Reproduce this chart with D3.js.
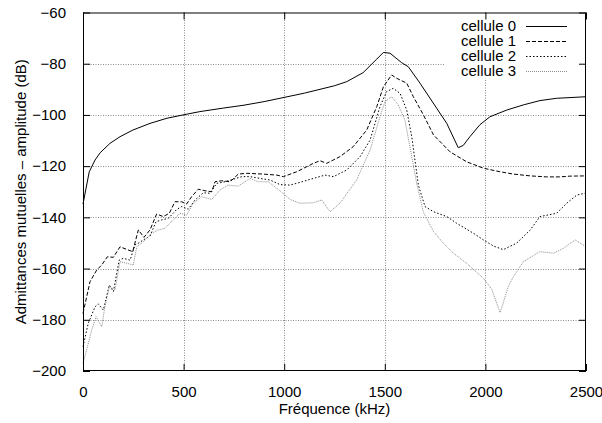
<!DOCTYPE html>
<html>
<head>
<meta charset="utf-8">
<script src="https://cdn.jsdelivr.net/npm/d3@7"></script>
<style>
  html, body { margin: 0; padding: 0; background: #fff; }
  svg { display: block; font-family: "Liberation Sans", Arial, Helvetica, sans-serif; }
</style>
</head>
<body>
<svg id="chart" width="602" height="423"></svg>
<script>
// Mutual admittance amplitude (dB) versus frequency (kHz), one series per cell.
const xTicks = [0, 500, 1000, 1500, 2000, 2500];
const yTicks = [-200, -180, -160, -140, -120, -100, -80, -60];
const seriesNames = ["cellule 0", "cellule 1", "cellule 2", "cellule 3"];

const cellule0 = [
  [0,-134.8],[31,-122.2],[60,-117.6],[85,-114.8],[134,-111.1],[184,-108.5],[248,-105.9],
  [333,-103.3],[417,-101.3],[497,-100],[581,-98.7],[700,-97.3],[800,-96.2],[900,-94.8],
  [979,-93.5],[1100,-91.5],[1178,-90],[1250,-88.6],[1311,-87],[1392,-83.5],[1460,-78.2],
  [1493,-75.6],[1526,-75.9],[1551,-77.5],[1584,-79.6],[1617,-81.2],[1675,-87.6],[1758,-97.4],
  [1808,-103.3],[1865,-112.8],[1890,-111.9],[1923,-108.5],[1973,-103.8],[2023,-100.7],
  [2106,-98.1],[2188,-96.1],[2271,-94.4],[2354,-93.5],[2500,-92.9]
];
const cellule1 = [
  [0,-177.5],[35,-165.1],[68,-160.6],[93,-158.6],[121,-155.4],[151,-155.6],[184,-151.5],
  [217,-152.5],[247,-153.4],[275,-144.9],[303,-147.8],[333,-144.9],[366,-138.7],[399,-139.7],
  [429,-138.4],[457,-133.9],[490,-133.9],[515,-134.8],[540,-131.9],[573,-129],[606,-129.6],
  [640,-130],[656,-126.1],[689,-125.7],[731,-126.1],[772,-123.1],[814,-122.8],[896,-123.1],
  [963,-123.5],[996,-124.1],[1062,-122.2],[1145,-118.9],[1178,-117.9],[1211,-118.9],
  [1277,-116.3],[1343,-112.4],[1410,-105.9],[1460,-96.8],[1493,-89],[1534,-84.4],[1559,-85.7],
  [1609,-87.6],[1642,-92.9],[1692,-100],[1742,-107.8],[1824,-114.4],[1907,-118.3],
  [1990,-120.8],[2073,-122.2],[2139,-123.1],[2222,-123.8],[2305,-124.2],[2371,-124.2],
  [2420,-123.9],[2500,-123.8]
];
const cellule2 = [
  [0,-190.5],[26,-181.4],[60,-174.9],[76,-173.8],[101,-176.2],[131,-166.4],[151,-169],
  [180,-156.7],[200,-156],[234,-156.7],[258,-150.8],[275,-150.1],[300,-148.8],[333,-147.3],
  [363,-141.7],[391,-141],[424,-140.4],[466,-136.9],[490,-135.8],[523,-136.8],[557,-133.2],
  [598,-130.4],[631,-130.6],[665,-126.7],[706,-126.1],[747,-125.1],[789,-124.1],[830,-124.1],
  [880,-124.8],[929,-125.4],[979,-127.2],[1029,-127.4],[1062,-126.7],[1145,-124.8],
  [1203,-123.5],[1245,-124.1],[1311,-121.5],[1377,-116.3],[1427,-109.8],[1476,-96.8],
  [1509,-90.9],[1542,-89.6],[1576,-91.6],[1609,-98.1],[1634,-108.5],[1667,-127.5],
  [1700,-135.8],[1742,-137.8],[1808,-139.7],[1857,-142.3],[1940,-146.2],[1990,-148.8],
  [2040,-151.2],[2089,-152.6],[2155,-150.1],[2222,-145],[2271,-139.7],[2354,-138.4],
  [2404,-134.5],[2454,-131.3],[2500,-130.5]
];
const cellule3 = [
  [0,-197],[18,-191.8],[43,-184],[65,-178.8],[93,-182.7],[109,-174.9],[131,-167.1],
  [159,-168.4],[184,-157.3],[217,-157.9],[250,-158.6],[267,-151.5],[300,-149.5],[341,-146.2],
  [374,-144.9],[407,-144.3],[449,-141],[482,-138.4],[515,-139.1],[548,-134.5],[590,-131.9],
  [640,-133],[681,-129.3],[722,-127.4],[772,-127.8],[830,-124.8],[871,-126.1],[921,-126.1],
  [979,-129.6],[1029,-133],[1079,-134.5],[1145,-134.3],[1186,-133.2],[1228,-137.8],
  [1277,-134.5],[1360,-125.4],[1427,-113.7],[1476,-100.7],[1501,-94.8],[1534,-92.9],
  [1567,-96.1],[1600,-102],[1634,-116.3],[1659,-127],[1692,-138],[1742,-145.5],
  [1791,-150.1],[1841,-154],[1907,-158],[1990,-163.8],[2031,-168],[2073,-177.2],
  [2114,-167],[2139,-163.2],[2189,-157.3],[2271,-153.4],[2338,-154],[2388,-152.1],
  [2446,-148.8],[2500,-151.5]
];

const allSeries = [cellule0, cellule1, cellule2, cellule3];
const styles = [
  { stroke: "#000", dash: null },
  { stroke: "#000", dash: "4,2" },
  { stroke: "#000", dash: "1.5,2" },
  { stroke: "#8c8c8c", dash: "1,1" }
];

const svg = d3.select("#chart");
const margin = { left: 83, right: 16, top: 12.5, bottom: 52 };
const W = 602, H = 423;
const x = d3.scaleLinear().domain([0, 2500]).range([margin.left, W - margin.right]);
const y = d3.scaleLinear().domain([-200, -60]).range([H - margin.bottom, margin.top]);
const x0 = x.range()[0], x1 = x.range()[1], y0 = y.range()[0], y1 = y.range()[1];

// grid
const grid = svg.append("g").attr("stroke", "#8a8a8a").attr("stroke-width", 1)
  .attr("stroke-dasharray", "1,1.5");
xTicks.filter(d => d > 0 && d < 2500).forEach(d => {
  grid.append("line").attr("x1", Math.round(x(d)) + 0.5).attr("x2", Math.round(x(d)) + 0.5)
    .attr("y1", y0).attr("y2", y1);
});
yTicks.filter(d => d > -200 && d < -60).forEach(d => {
  grid.append("line").attr("x1", x0).attr("x2", x1)
    .attr("y1", Math.round(y(d)) + 0.5).attr("y2", Math.round(y(d)) + 0.5);
});

// curves
const line = d3.line().x(d => x(d[0])).y(d => y(d[1]));
allSeries.forEach((s, i) => {
  svg.append("path").datum(s).attr("d", line)
    .attr("fill", "none").attr("stroke", styles[i].stroke).attr("stroke-width", 1)
    .attr("stroke-dasharray", styles[i].dash);
});

// key area
const key = svg.append("g");
key.append("rect").attr("x", 445).attr("y", y1 + 1).attr("width", x1 - 446).attr("height", 65)
  .attr("fill", "#fff");
seriesNames.forEach((name, i) => {
  const ky = 26 + i * 15;
  key.append("text").attr("x", 516).attr("y", ky).attr("dy", "0.35em")
    .attr("text-anchor", "end").attr("font-size", 15).attr("fill", "#000").text(name);
  key.append("line").attr("x1", 526).attr("x2", 567).attr("y1", ky + 0.5).attr("y2", ky + 0.5)
    .attr("stroke", styles[i].stroke).attr("stroke-width", 1)
    .attr("stroke-dasharray", styles[i].dash);
});

// axes: labels on bottom/left, inward ticks on all four sides
const tickLen = 7;
const fmt = d => d < 0 ? "\u2212" + Math.abs(d) : String(d);
const axB = d3.axisBottom(x).tickValues(xTicks).tickSize(-tickLen).tickPadding(15).tickFormat(fmt);
const axT = d3.axisTop(x).tickValues(xTicks).tickSize(-tickLen).tickFormat("");
const axL = d3.axisLeft(y).tickValues(yTicks).tickSize(-tickLen).tickPadding(17).tickFormat(fmt);
const axR = d3.axisRight(y).tickValues(yTicks).tickSize(-tickLen).tickFormat("");

[[axB, `translate(0,${y0})`], [axT, `translate(0,${y1})`],
 [axL, `translate(${x0},0)`], [axR, `translate(${x1},0)`]].forEach(([ax, tr]) => {
  const g = svg.append("g").attr("transform", tr).call(ax);
  g.select(".domain").remove();
  g.selectAll("line").attr("stroke", "#000");
  g.selectAll("text").attr("font-size", 15).attr("fill", "#000")
    .style("font-family", "'Liberation Sans', Arial, sans-serif");
});

// frame
svg.append("rect").attr("x", x0 + 0.5).attr("y", y1 + 0.5)
  .attr("width", x1 - x0 - 1).attr("height", y0 - y1 - 1)
  .attr("fill", "none").attr("stroke", "#000").attr("stroke-width", 1);

// axis titles
svg.append("text").attr("x", (x0 + x1) / 2).attr("y", 409).attr("dy", "0.35em")
  .attr("text-anchor", "middle").attr("font-size", 15).text("Fréquence (kHz)");
svg.append("text").attr("transform", `translate(21,${(y0 + y1) / 2}) rotate(-90)`)
  .attr("dy", "0.35em").attr("text-anchor", "middle").attr("font-size", 15)
  .text("Admittances mutuelles \u2013 amplitude (dB)");
</script>
</body>
</html>
